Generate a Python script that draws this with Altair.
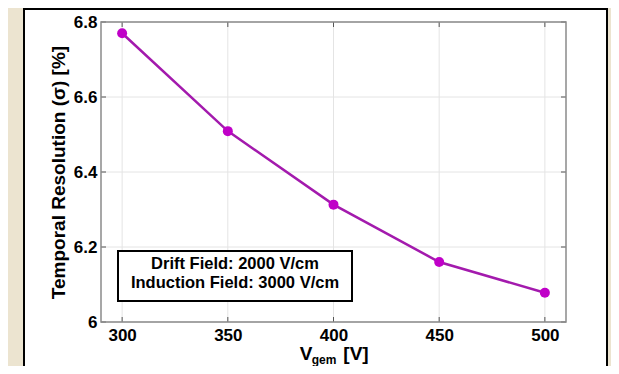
import altair as alt
import pandas as pd

# ---- data ----
vgem = [300, 350, 400, 450, 500]
sigma = [6.77, 6.509, 6.313, 6.160, 6.078]
x_ticks = [300, 350, 400, 450, 500]
y_ticks = [6.0, 6.2, 6.4, 6.6, 6.8]
legend_lines = ["Drift Field: 2000 V/cm", "Induction Field: 3000 V/cm"]

W, H = 465, 300
SANS = "Liberation Sans, Arial, Helvetica"

df = pd.DataFrame({"vgem": vgem, "sigma": sigma})
xt = pd.DataFrame({"v": x_ticks})
yt = pd.DataFrame({"v": y_ticks})
one = alt.Data(values=[{}])

xs = alt.Scale(domain=[290, 510], nice=False, zero=False)
ys = alt.Scale(domain=[6.0, 6.8], nice=False, zero=False)

# white panel with black border
panel = alt.Chart(one).mark_rect(fill="white", stroke="black", strokeWidth=2, clip=False).encode(
    x=alt.value(-77), x2=alt.value(506), y=alt.value(-13), y2=alt.value(380)
)

# grid lines
xgrid = alt.Chart(xt).mark_rule(color="#e4e4e4", strokeWidth=1).encode(
    x=alt.X("v:Q", scale=xs), y=alt.value(0), y2=alt.value(H)
)
ygrid = alt.Chart(yt).mark_rule(color="#e4e4e4", strokeWidth=1).encode(
    y=alt.Y("v:Q", scale=ys), x=alt.value(0), x2=alt.value(W)
)

# inward ticks on all four sides
tick_col = "#555555"
xtick_b = alt.Chart(xt).mark_rule(color=tick_col, strokeWidth=1).encode(
    x=alt.X("v:Q", scale=xs), y=alt.value(H - 5), y2=alt.value(H))
xtick_t = alt.Chart(xt).mark_rule(color=tick_col, strokeWidth=1).encode(
    x=alt.X("v:Q", scale=xs), y=alt.value(0), y2=alt.value(5))
ytick_l = alt.Chart(yt).mark_rule(color=tick_col, strokeWidth=1).encode(
    y=alt.Y("v:Q", scale=ys), x=alt.value(0), x2=alt.value(5))
ytick_r = alt.Chart(yt).mark_rule(color=tick_col, strokeWidth=1).encode(
    y=alt.Y("v:Q", scale=ys), x=alt.value(W - 5), x2=alt.value(W))

# plot frame
frame = alt.Chart(one).mark_rect(fill=None, stroke="#8a8a8a", strokeWidth=1.5).encode(
    x=alt.value(0), x2=alt.value(W), y=alt.value(0), y2=alt.value(H)
)

# data line + markers (these carry the axes)
line = alt.Chart(df).mark_line(color="#a31aad", strokeWidth=2.5, clip=False).encode(
    x=alt.X("vgem:Q", scale=xs,
            axis=alt.Axis(values=x_ticks, title=None, grid=False, domain=False, ticks=False,
                          labelFont=SANS, labelFontSize=17, labelFontWeight="bold",
                          labelColor="black", labelPadding=5, zindex=1, labelFlush=False)),
    y=alt.Y("sigma:Q", scale=ys,
            axis=alt.Axis(values=y_ticks, format="~g", title="Temporal Resolution (σ) [%]",
                          grid=False, domain=False, ticks=False,
                          labelFont=SANS, labelFontSize=17, labelFontWeight="bold",
                          labelColor="black", labelPadding=4, zindex=1, labelFlush=False,
                          titleFont=SANS, titleFontSize=19, titleFontWeight="bold",
                          titleColor="black", titlePadding=5)),
)
points = alt.Chart(df).mark_circle(color="#c000c8", opacity=1, size=100, clip=False).encode(
    x=alt.X("vgem:Q", scale=xs), y=alt.Y("sigma:Q", scale=ys)
)

# annotation box
box = alt.Chart(one).mark_rect(fill="white", stroke="black", strokeWidth=2).encode(
    x=alt.value(17), x2=alt.value(251), y=alt.value(229), y2=alt.value(279)
)
box_l1 = alt.Chart(one).mark_text(text=legend_lines[0], font=SANS, fontSize=16.5, fontWeight="bold",
                                  color="black", align="center", baseline="middle").encode(
    x=alt.value(134), y=alt.value(242))
box_l2 = alt.Chart(one).mark_text(text=legend_lines[1], font=SANS, fontSize=16.5, fontWeight="bold",
                                  color="black", align="center", baseline="middle").encode(
    x=alt.value(134), y=alt.value(261))

# x-axis title with subscript
t_v = alt.Chart(one).mark_text(text="V", font=SANS, fontSize=19, fontWeight="bold", color="black",
                               align="center", baseline="alphabetic", clip=False).encode(
    x=alt.value(205), y=alt.value(338))
t_sub = alt.Chart(one).mark_text(text="gem", font=SANS, fontSize=12, fontWeight="bold", color="black",
                                 align="center", baseline="alphabetic", clip=False).encode(
    x=alt.value(223), y=alt.value(342))
t_unit = alt.Chart(one).mark_text(text="[V]", font=SANS, fontSize=19, fontWeight="bold", color="black",
                                  align="center", baseline="alphabetic", clip=False).encode(
    x=alt.value(255), y=alt.value(338))

chart = alt.layer(
    panel, xgrid, ygrid, xtick_b, xtick_t, ytick_l, ytick_r, frame,
    line, points, box, box_l1, box_l2, t_v, t_sub, t_unit
).properties(
    width=W, height=H,
    autosize=alt.AutoSizeParams(type="none"),
    padding={"left": 93, "top": 14, "right": 45, "bottom": 44},
    background="#ece4d0",
).configure_view(stroke=None, fill="white")

chart.save("out.html", embed_options={"renderer": "svg", "actions": False})
